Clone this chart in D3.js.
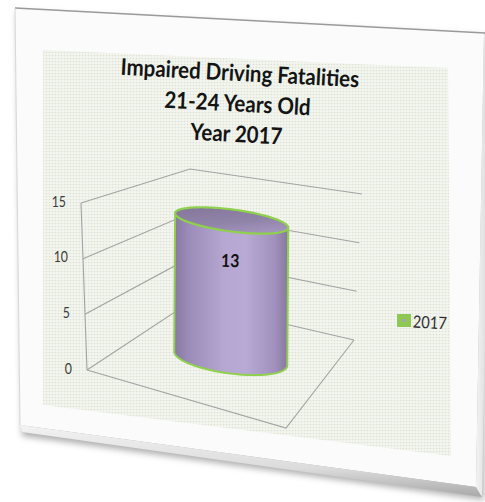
<!DOCTYPE html>
<html><head><meta charset="utf-8">
<script src="https://cdn.jsdelivr.net/npm/d3@7"></script>
<style>html,body{margin:0;padding:0;background:#fff;overflow:hidden}</style>
</head><body>
<svg id="chart" width="485" height="502"></svg>
<script>
// ---- data ----
const titleLines = ["Impaired Driving Fatalities", "21-24 Years Old", "Year 2017"];
const categories = ["2017"];
const seriesNames = ["2017"];
const values = [13];
const yTicks = [0, 5, 10, 15];
const yDomain = [0, 15];

// ---- layout ----
const FONT = "Lato, 'Open Sans', 'Liberation Sans', sans-serif";
const svg = d3.select("#chart");
const defs = svg.append("defs");

// photographed panel (perspective)
const panelFace = [[15,8],[484,32],[476,487],[20,425]];
const bevelBottom = [[20,425],[476,487],[482,497],[22,432]];
const bevelRight = [[476,487],[484,32],[490,33],[482,497]];
const plotArea = [[43,50],[448,68],[451,456],[43,405]];

// projected 3D box corners
const box = {
  bottom: {fl:[87,370], bl:[190,302], br:[354,340], fr:[286,428]},
  top:    {fl:[81,203], bl:[190,169], br:[362,194], fr:[295,230]}
};
const yScale = d3.scaleLinear().domain(yDomain).range([0, 1]);
const catScale = d3.scaleBand().domain(categories).range([0, 1]).padding(0.4);
const depthScale = d3.scaleBand().domain(seriesNames).range([0, 1]).padding(0.4);

const lerp = (a,b,t) => [a[0]+(b[0]-a[0])*t, a[1]+(b[1]-a[1])*t];
const bil = (f,d,c) => lerp(lerp(f.fl,f.bl,d), lerp(f.fr,f.br,d), c);
const P = (d,c,v) => lerp(bil(box.bottom,d,c), bil(box.top,d,c), v);
const line = d3.line();

// ---- panel ----
const shadow = defs.append("filter").attr("id","blur").attr("x","-10%").attr("y","-10%").attr("width","120%").attr("height","130%");
shadow.append("feGaussianBlur").attr("stdDeviation",3);
const bg = defs.append("linearGradient").attr("id","bevB").attr("x1",0).attr("y1",0).attr("x2",0).attr("y2",1);
bg.append("stop").attr("offset",0).attr("stop-color","#f2f2f2");
bg.append("stop").attr("offset",0.6).attr("stop-color","#dcdcdc");
bg.append("stop").attr("offset",1).attr("stop-color","#a8a8a8");
const br = defs.append("linearGradient").attr("id","bevR").attr("x1",0).attr("y1",0).attr("x2",1).attr("y2",0);
br.append("stop").attr("offset",0).attr("stop-color","#f4f4f4");
br.append("stop").attr("offset",1).attr("stop-color","#d6d6d6");

svg.append("path").attr("d", line([[17,12],[486,36],[484,500],[22,436]])+"Z")
  .attr("fill","#9c9c9c").attr("filter","url(#blur)").attr("opacity",0.8);
svg.append("path").attr("d", line(panelFace)+"Z").attr("fill","#fbfbfb");
svg.append("path").attr("d", line(bevelBottom)+"Z").attr("fill","url(#bevB)");
svg.append("path").attr("d", line(bevelRight)+"Z").attr("fill","url(#bevR)");
svg.append("path").attr("d", line([[15,8],[485,33]])).attr("stroke","#9a9a9a").attr("stroke-width",1.6).attr("fill","none");
svg.append("path").attr("d", line([[15,8],[20,425]])).attr("stroke","#d8d8d8").attr("stroke-width",1).attr("fill","none");

// dotted plot area
const pat = defs.append("pattern").attr("id","dots").attr("patternUnits","userSpaceOnUse").attr("width",3).attr("height",3);
pat.append("rect").attr("width",3).attr("height",3).attr("fill","#f3f5ef");
pat.append("circle").attr("cx",1.5).attr("cy",1.5).attr("r",0.85).attr("fill","#dde2d3");
svg.append("path").attr("d", line(plotArea)+"Z").attr("fill","url(#dots)");

// ---- title ----
const titlePos = [[239.5,81],[237,111.5],[236,142]];
const tg = svg.append("g");
const titleTexts = tg.selectAll("text").data(titleLines).join("text")
  .text(d=>d).attr("font-family",FONT).attr("font-weight","bold").attr("font-size",23)
  .attr("fill","#141414").attr("text-anchor","middle");
const l1 = titleTexts.nodes()[0].getComputedTextLength();
const ts = 239 / l1;
titleTexts.attr("transform",(d,i)=>`translate(${titlePos[i][0]},${titlePos[i][1]}) rotate(3) scale(${ts},1)`);

// ---- walls / gridlines ----
const grid = svg.append("g").attr("stroke","#a3a3a3").attr("stroke-width",1.1).attr("fill","none");
yTicks.forEach(t => {
  const v = yScale(t);
  grid.append("path").attr("d", line([P(0,0,v), P(1,0,v), P(1,1,v)]));
});
// floor outline
grid.append("path").attr("d", line([P(0,0,0), P(0,1,0), P(1,1,0)]));
// vertical axis
grid.append("path").attr("d", line([P(0,0,0), P(0,0,1)]));

// tick labels
svg.append("g").selectAll("text").data(yTicks).join("text")
  .text(d=>d).attr("font-family",FONT).attr("font-size",14.5).attr("fill","#3c3c3c")
  .attr("text-anchor","end").attr("dominant-baseline","middle")
  .attr("transform",d=>{const p=P(0,0,yScale(d)); return `translate(${p[0]-15},${p[1]}) scale(0.85,1)`;});

// ---- cylinder ----
const rot = 7.5*Math.PI/180;
const rx = 57, ryTop = 11, ryBot = 15;
function ellipsePts(c, ry, t0, t1, n){
  const pts=[];
  for(let i=0;i<=n;i++){
    const t=t0+(t1-t0)*i/n;
    pts.push([c[0]+rx*Math.cos(t)*Math.cos(rot)-ry*Math.sin(t)*Math.sin(rot),
              c[1]+rx*Math.cos(t)*Math.sin(rot)+ry*Math.sin(t)*Math.cos(rot)]);
  }
  return pts;
}
const bodyGrad = defs.append("linearGradient").attr("id","body").attr("gradientUnits","userSpaceOnUse");
[[0,"#877a9f"],[0.12,"#9a8bb8"],[0.45,"#b6a7d3"],[0.62,"#b8aad4"],[0.88,"#a190bd"],[1,"#84779b"]]
  .forEach(s=>bodyGrad.append("stop").attr("offset",s[0]).attr("stop-color",s[1]));
const topGrad = defs.append("linearGradient").attr("id","topg").attr("x1",0.2).attr("y1",0).attr("x2",0.6).attr("y2",1);
[[0,"#85789b"],[0.6,"#9184a9"],[1,"#a193bb"]].forEach(s=>topGrad.append("stop").attr("offset",s[0]).attr("stop-color",s[1]));

values.forEach((val,i)=>{
  const c = catScale(categories[i]) + catScale.bandwidth()/2;
  const d = depthScale(seriesNames[0]) + depthScale.bandwidth()/2;
  const b = P(d,c,0), t = P(d,c,yScale(val));
  const bc = [b[0]+1.5, b[1]-1.5];
  const tr0 = Math.atan(-(ryBot*Math.sin(rot))/(rx*Math.cos(rot)));
  const front = ellipsePts(bc, ryBot, tr0, tr0+Math.PI, 80);
  const tt0 = Math.atan(-(ryTop*Math.sin(rot))/(rx*Math.cos(rot)));
  const topFront = ellipsePts(t, ryTop, tt0, tt0+Math.PI, 80);
  bodyGrad.attr("x1", t[0]-rx).attr("x2", t[0]+rx).attr("y1",0).attr("y2",0);
  const bodyPts = [topFront[topFront.length-1], ...front.slice().reverse(), topFront[0]];
  svg.append("path").attr("d", line(bodyPts)+"Z").attr("fill","url(#body)")
    .attr("stroke","#8fd04c").attr("stroke-width",2).attr("stroke-linejoin","round");
  const full = ellipsePts(t, ryTop, 0, 2*Math.PI, 120);
  svg.append("path").attr("d", line(full)+"Z").attr("fill","url(#topg)")
    .attr("stroke","#8fd04c").attr("stroke-width",2.2);
  svg.append("text").text(val).attr("font-family",FONT).attr("font-weight","bold")
    .attr("font-size",18).attr("fill","#111").attr("text-anchor","middle")
    .attr("dominant-baseline","middle")
    .attr("transform",`translate(${t[0]-1.5},${t[1]+42}) rotate(2) scale(0.88,1)`);
});

// ---- legend ----
const lg = svg.append("g").attr("transform","translate(397,314)");
lg.append("rect").attr("width",14).attr("height",13).attr("fill","#8cc852");
lg.append("rect").attr("x",5.5).attr("y",5).attr("width",3).attr("height",3).attr("fill","#a9a0b8");
lg.append("text").text(seriesNames[0]).attr("font-family",FONT).attr("font-size",17)
  .attr("fill","#2e2e2e").attr("transform","translate(15.5,13.5) rotate(3) scale(0.86,1)");
</script>
</body></html>
